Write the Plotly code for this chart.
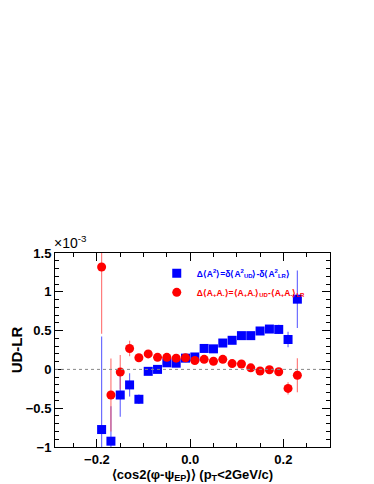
import plotly.graph_objects as go

# bin centres of <cos2(phi-psi_EP)>
x_bins = [-0.19, -0.17, -0.15, -0.13, -0.11, -0.09, -0.07, -0.05, -0.03, -0.01,
          0.01, 0.03, 0.05, 0.07, 0.09, 0.11, 0.13, 0.15, 0.17, 0.19, 0.21, 0.23]

# values in units of 1e-3
a2_vals = [-0.775, -0.925, -0.33, -0.20, -0.385, -0.025, 0.0, 0.085, 0.08, 0.145,
           0.16, 0.27, 0.265, 0.34, 0.375, 0.435, 0.435, 0.495, 0.52, 0.515, 0.385, 0.905]
a2_errs = [1.20, 0.45, 0.28, 0.15, 0.06, 0.04, 0.03, 0.03, 0.03, 0.03,
           0.03, 0.03, 0.03, 0.03, 0.03, 0.03, 0.03, 0.03, 0.04, 0.06, 0.10, 0.37]

apam_vals = [1.32, -0.33, -0.035, 0.27, 0.15, 0.20, 0.155, 0.155, 0.145, 0.15,
             0.115, 0.13, 0.105, 0.13, 0.075, 0.07, 0.02, -0.02, -0.005, -0.03, -0.245, -0.075]
apam_errs = [0.86, 0.47, 0.22, 0.10, 0.05, 0.03, 0.03, 0.03, 0.03, 0.03,
             0.03, 0.03, 0.03, 0.03, 0.03, 0.03, 0.03, 0.03, 0.03, 0.03, 0.08, 0.22]

x_err = [0.005] * len(x_bins)

FONT = "Liberation Sans, Arial, sans-serif"

fig = go.Figure()
fig.add_trace(go.Scatter(
    x=x_bins, y=a2_vals, mode="markers",
    name="<span style='color:#0000ff'><b>Δ⟨A<sup>2</sup>⟩=δ⟨A<sup>2</sup><sub>UD</sub>⟩-δ⟨A<sup>2</sup><sub>LR</sub>⟩</b></span>",
    marker=dict(symbol="square", size=9, color="#0000ff"),
    error_y=dict(type="data", array=a2_errs, color="rgba(60,60,255,0.75)", thickness=1.2, width=0),
    error_x=dict(type="data", array=x_err, color="rgba(60,60,255,0.75)", thickness=1.2, width=0),
))
fig.add_trace(go.Scatter(
    x=x_bins, y=apam_vals, mode="markers",
    name="<span style='color:#ff0000'><b>Δ⟨A<sub>+</sub>A<sub>-</sub>⟩=⟨A<sub>+</sub>A<sub>-</sub>⟩<sub>UD</sub>-⟨A<sub>+</sub>A<sub>-</sub>⟩<sub>LR</sub></b></span>",
    marker=dict(symbol="circle", size=9, color="#ff0000"),
    error_y=dict(type="data", array=apam_errs, color="rgba(255,80,80,0.75)", thickness=1.2, width=0),
    error_x=dict(type="data", array=x_err, color="rgba(255,80,80,0.75)", thickness=1.2, width=0),
))

fig.add_hline(y=0, line=dict(color="#888888", width=1, dash="dot"))

axis_common = dict(
    showgrid=False, zeroline=False, showline=True, linecolor="black", linewidth=1,
    mirror="ticks", ticks="inside", ticklen=8, tickcolor="black", automargin=False,
    tickfont=dict(family=FONT, size=13, color="black", weight="bold"),
)
fig.update_xaxes(range=[-0.29, 0.3], tick0=0, dtick=0.2, tickformat=".1f",
                 minor=dict(ticks="inside", dtick=0.05, ticklen=4, tickcolor="black"),
                 title=dict(text="⟨cos2(φ-ψ<sub>EP</sub>)⟩ (p<sub>T</sub><2GeV/c)",
                            font=dict(family=FONT, size=13, color="black", weight="bold"),
                            standoff=2),
                 **axis_common)
fig.update_yaxes(range=[-1, 1.5], tick0=0, dtick=0.5,
                 minor=dict(ticks="inside", dtick=0.1, ticklen=4, tickcolor="black"),
                 title=dict(text="UD-LR",
                            font=dict(family=FONT, size=15, color="black", weight="bold"),
                            standoff=6),
                 **axis_common)

fig.add_annotation(text="×10<sup>-3</sup>", xref="paper", yref="paper", x=-0.01, y=1.0,
                   xanchor="left", yanchor="bottom", showarrow=False,
                   font=dict(family=FONT, size=14, color="black"))

# page body has an 8px margin, so the figure is sized to fit inside the window
fig.update_layout(
    width=366, height=476,
    margin=dict(l=47, r=44, t=245, b=37, autoexpand=False),
    paper_bgcolor="white", plot_bgcolor="white",
    legend=dict(x=0.37, y=0.97, xanchor="left", yanchor="top", bgcolor="rgba(0,0,0,0)",
                font=dict(family=FONT, size=8.5), tracegroupgap=0, itemwidth=30),
    showlegend=True,
)

fig.write_html("out.html")
